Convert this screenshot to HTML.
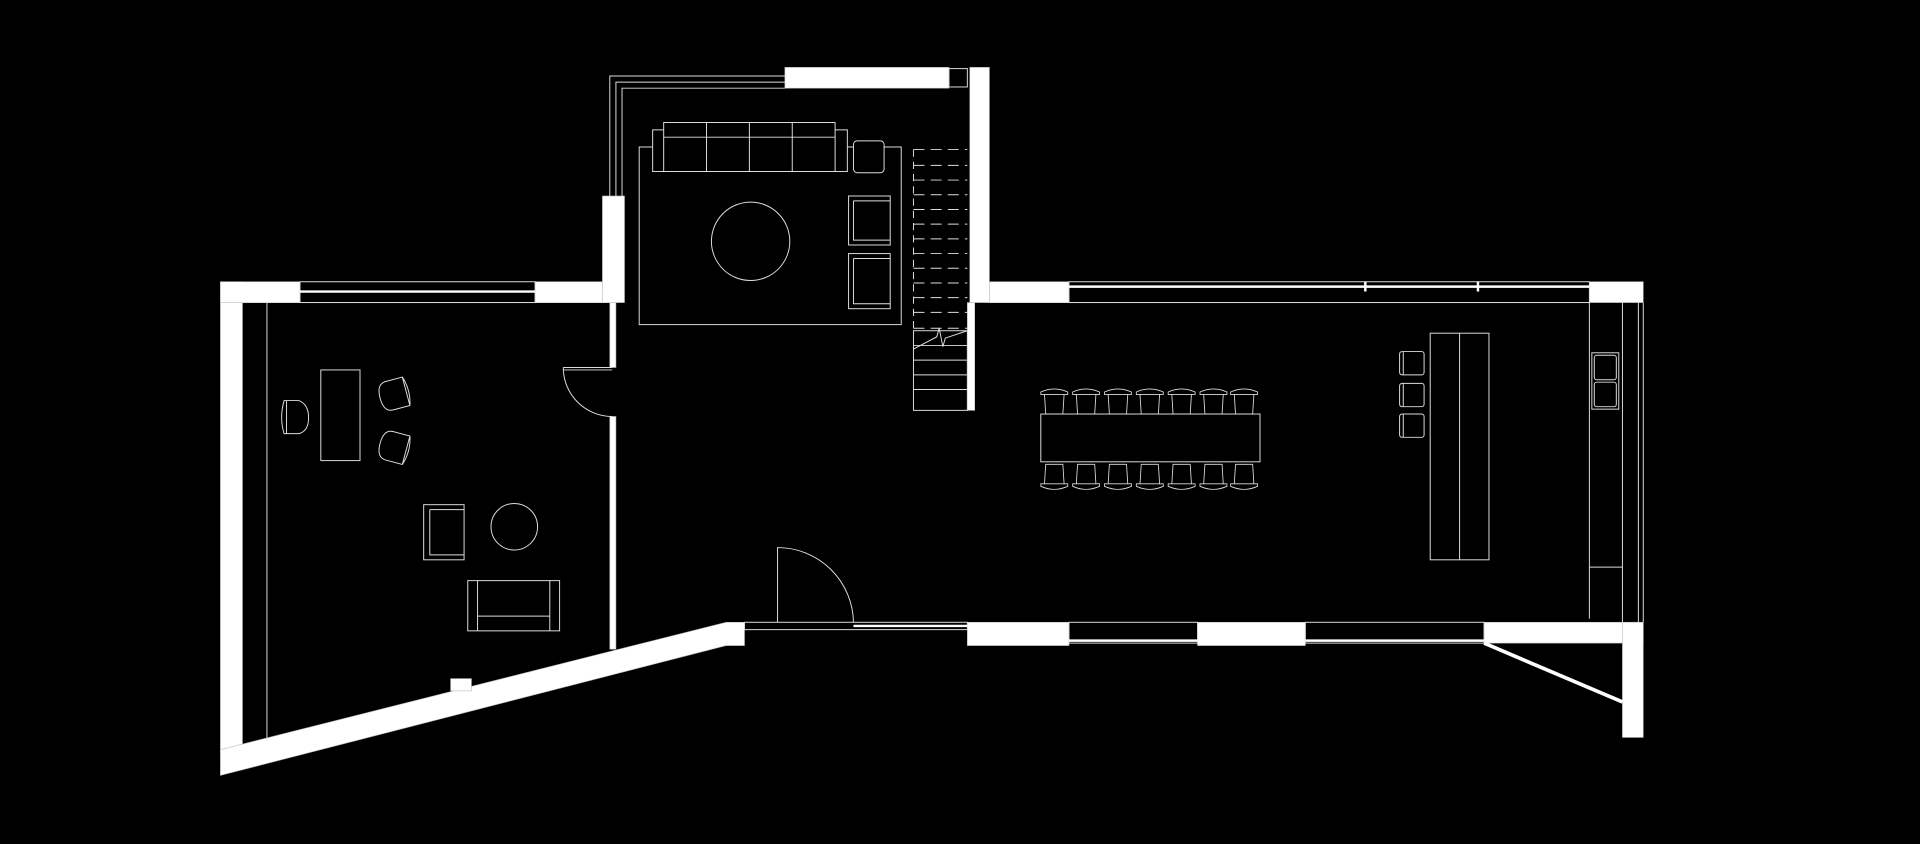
<!DOCTYPE html>
<html><head><meta charset="utf-8"><style>
html,body{margin:0;padding:0;background:#000;width:1920px;height:844px;overflow:hidden}
svg{display:block}
</style></head><body>
<svg width="1920" height="844" viewBox="0 0 1568 689" preserveAspectRatio="none" xmlns="http://www.w3.org/2000/svg">
<defs>
<g id="ch" fill="none" stroke="#ddd" stroke-width="0.7">
<path d="M-11,2 Q0,-3 11,2 L11,4 L8,4 L7,20 L-7,20 L-8,4 L-11,4 Z"/>
<path d="M-8,4 L8,4"/>
</g>
<g id="stool" fill="none" stroke="#ddd" stroke-width="0.8">
<rect x="0" y="0" width="20" height="19" rx="2"/><path d="M3,0 V19"/>
</g>
</defs>
<rect width="1568" height="689" fill="#000"/>
<g fill="#fff" stroke="#bbb" stroke-width="0.5">
<!-- left room walls -->
<rect x="180" y="230" width="18" height="385"/>
<rect x="180" y="230" width="65" height="17"/>
<rect x="437" y="230" width="63" height="17"/>
<polygon points="180,612 593,508 608,508 608,527 593,527 180,633"/>
<rect x="492" y="160" width="18" height="87"/>
<!-- top room -->
<rect x="641" y="55" width="134" height="17"/>
<rect x="792" y="55" width="16" height="192"/>
<rect x="808" y="230" width="65" height="17"/>
<rect x="1298" y="230" width="44" height="17"/>
<!-- bottom right -->
<rect x="790" y="508" width="83" height="19"/>
<rect x="978" y="508" width="88" height="19"/>
<rect x="1212" y="508" width="130" height="17"/>
<rect x="1325" y="508" width="17" height="94"/>
<rect x="368" y="554" width="17" height="10"/>
<rect x="790" y="247" width="6" height="88"/>
<rect x="498" y="247" width="5" height="53"/>
<rect x="498" y="340" width="5" height="190"/>
</g>
<g fill="none" stroke="#ddd" stroke-width="0.8">
<!-- windows -->
<rect x="245" y="230" width="192" height="17"/><line x1="245" y1="238" x2="437" y2="238" stroke-width="2" stroke="#fff"/>
<path d="M498,160 V62 H641 M503,160 V67 H641 M508,160 V72 H641" />
<rect x="775" y="56" width="15" height="15"/>
<rect x="873" y="230" width="425" height="17"/><line x1="873" y1="234" x2="1298" y2="234" stroke-width="2" stroke="#fff"/>
<line x1="1115" y1="230" x2="1115" y2="238" stroke-width="2" stroke="#fff"/><line x1="1207" y1="230" x2="1207" y2="238" stroke-width="2" stroke="#fff"/>
<rect x="873" y="508" width="105" height="17"/><line x1="873" y1="523" x2="978" y2="523" stroke-width="2" stroke="#fff"/>
<rect x="1066" y="508" width="146" height="17"/><line x1="1066" y1="523" x2="1212" y2="523" stroke-width="2" stroke="#fff"/>
<rect x="608" y="508" width="182" height="6"/>
<line x1="697" y1="511" x2="790" y2="511" stroke-width="2" stroke="#fff"/>
<line x1="1338" y1="247" x2="1338" y2="508"/><line x1="1342" y1="247" x2="1342" y2="508"/>
<line x1="1325" y1="247" x2="1325" y2="508"/>
<line x1="1212" y1="525" x2="1325" y2="573" stroke="#fff" stroke-width="3"/>
<!-- inner lines -->
<line x1="218" y1="247" x2="218" y2="605"/>
<line x1="198" y1="247" x2="500" y2="247"/>
<line x1="808" y1="247" x2="1298" y2="247"/>
<!-- doors -->
<path d="M460,300 H500 M460,302 H500"/><path d="M460,300 A40,40 0 0 0 500,340"/>
<path d="M635,508 V447 A62,62 0 0 1 697,508"/>
<!-- top room furniture -->
<rect x="522" y="120" width="214" height="145"/>
<rect x="533" y="106" width="159" height="34" fill="#000"/>
<rect x="542" y="100" width="140" height="40" fill="#000"/>
<path d="M542,112 H682 M577,100 V140 M612,100 V140 M647,100 V140"/>
<rect x="697" y="115" width="25" height="26" rx="3" fill="#000"/>
<circle cx="613" cy="197" r="32"/>
<rect x="693" y="160" width="34" height="40"/><path d="M697,164 V196 H727 M697,164 H727"/>
<rect x="693" y="207" width="34" height="45"/><path d="M697,211 V248 H727 M697,211 H727"/>
<!-- stairs -->
<rect x="746" y="270" width="44" height="65"/>
<path d="M746,282 H790 M746,294 H790 M746,306 H790 M746,318 H790"/>
<path d="M746,122 H790 M746,135 H790 M746,147 H790 M746,159 H790 M746,171 H790 M746,183 H790 M746,195 H790 M746,207 H790 M746,219 H790 M746,231 H790 M746,243 H790 M746,255 H790 M746,268 H790" stroke-dasharray="9,5"/>
<path d="M746,122 V270" stroke-dasharray="6,4"/>
<path d="M746,285 L765,275 L767,268 L770,283 L772,276 L790,270"/>
<!-- left room furniture -->
<rect x="262" y="302" width="32" height="74"/>
<path d="M232,327 H244 Q252,330 252,341 Q252,352 244,354 H232 Q228,341 232,327 Z M234,327 V354"/>
<g transform="translate(322,322) rotate(-15)"><path d="M-10,-12 H4 Q12,-12 12,0 Q12,12 4,12 H-10 Q-14,0 -10,-12 Z M-10,-12 V12" transform="scale(-1,1)"/></g>
<g transform="translate(322,365) rotate(15)"><path d="M-10,-12 H4 Q12,-12 12,0 Q12,12 4,12 H-10 Q-14,0 -10,-12 Z M-10,-12 V12" transform="scale(-1,1)"/></g>
<rect x="346" y="412" width="33" height="45"/><path d="M351,416 V453 H379 M351,416 H379"/>
<circle cx="420" cy="430" r="19"/>
<rect x="382" y="474" width="75" height="41"/><path d="M390,474 V515 M449,474 V515 M390,503 H449"/>
<!-- dining -->
<rect x="850" y="338" width="179" height="39"/>
<!-- island -->
<rect x="1168" y="272" width="48" height="185"/><line x1="1192" y1="272" x2="1192" y2="457"/>
<!-- kitchen counter -->
<rect x="1300" y="288" width="22" height="46"/>
<rect x="1302" y="290" width="18" height="20" rx="2"/><rect x="1302" y="312" width="18" height="20" rx="2"/>
<line x1="1298" y1="247" x2="1298" y2="505"/>
<line x1="1298" y1="463" x2="1325" y2="463"/>
</g>
<g>
<use href="#ch" x="861" y="318"/><use href="#ch" x="887" y="318"/><use href="#ch" x="913" y="318"/><use href="#ch" x="939" y="318"/><use href="#ch" x="965" y="318"/><use href="#ch" x="991" y="318"/><use href="#ch" x="1016" y="318"/>
<g transform="translate(0,717) scale(1,-1)">
<use href="#ch" x="861" y="318"/><use href="#ch" x="887" y="318"/><use href="#ch" x="913" y="318"/><use href="#ch" x="939" y="318"/><use href="#ch" x="965" y="318"/><use href="#ch" x="991" y="318"/><use href="#ch" x="1016" y="318"/>
</g>
<use href="#stool" x="1143" y="287"/><use href="#stool" x="1143" y="313"/><use href="#stool" x="1143" y="338"/>
</g>
</svg>
</body></html>
